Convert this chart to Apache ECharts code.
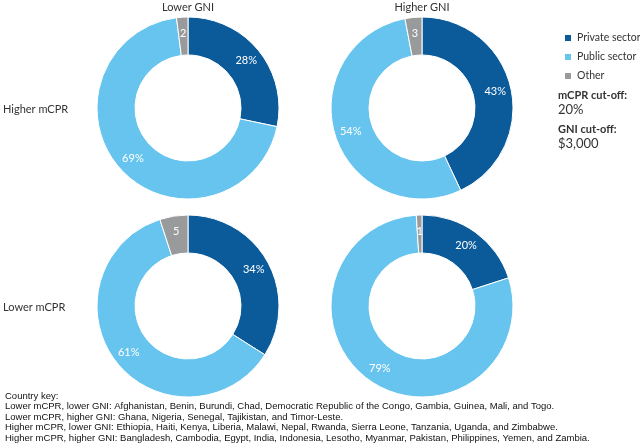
<!DOCTYPE html>
<html><head><meta charset="utf-8">
<script src="https://cdn.jsdelivr.net/npm/echarts@6/dist/echarts.min.js"></script>
<style>html,body{margin:0;padding:0;background:#fff}#c{width:640px;height:448px}</style>
</head><body><div id="c"></div>
<script>
const sectors = ['Private sector', 'Public sector', 'Other'];
const colors = ['#0b5b9b', '#67c4ee', '#999a9c'];
const colTitles = ['Lower GNI', 'Higher GNI'];
const rowTitles = ['Higher mCPR', 'Lower mCPR'];
const higherMcprLowerGni = [28, 69, 2];
const higherMcprHigherGni = [43, 54, 3];
const lowerMcprLowerGni = [34, 61, 5];
const lowerMcprHigherGni = [20, 79, 1];
const cutoffLabels = ['mCPR cut-off:', '20%', 'GNI cut-off:', '$3,000'];
const keyLines = [
  'Country key:',
  'Lower mCPR, lower GNI: Afghanistan, Benin, Burundi, Chad, Democratic Republic of the Congo, Gambia, Guinea, Mali, and Togo.',
  'Lower mCPR, higher GNI: Ghana, Nigeria, Senegal, Tajikistan, and Timor-Leste.',
  'Higher mCPR, lower GNI: Ethiopia, Haiti, Kenya, Liberia, Malawi, Nepal, Rwanda, Sierra Leone, Tanzania, Uganda, and Zimbabwe.',
  'Higher mCPR, higher GNI: Bangladesh, Cambodia, Egypt, India, Indonesia, Lesotho, Myanmar, Pakistan, Philippines, Yemen, and Zambia.'
];

const font = 'Lato, "Noto Sans", sans-serif';
const cxs = [188, 422];
const cys = [108, 306];
const panels = [
  [higherMcprLowerGni, 0, 0],
  [higherMcprHigherGni, 1, 0],
  [lowerMcprLowerGni, 0, 1],
  [lowerMcprHigherGni, 1, 1]
];

const series = panels.map(([vals, c, r]) => ({
  type: 'pie',
  center: [cxs[c], cys[r]],
  radius: [53, 91],
  startAngle: 90,
  clockwise: true,
  avoidLabelOverlap: false,
  silent: true,
  itemStyle: { borderColor: '#fff', borderWidth: 1 },
  label: {
    show: true, position: 'inside', color: '#fff', fontSize: 11, fontFamily: font,
    formatter: p => p.dataIndex === 2 ? String(p.value) : p.value + '%'
  },
  labelLine: { show: false },
  data: sectors.map((s, i) => ({ name: s, value: vals[i], itemStyle: { color: colors[i] } }))
}));

const graphics = [];
colTitles.forEach((t, i) => graphics.push({ type: 'text', x: cxs[i], y: 7, style: { text: t, align: 'center', verticalAlign: 'middle', fontSize: 11, fontFamily: font, fill: '#333' } }));
rowTitles.forEach((t, i) => graphics.push({ type: 'text', x: 3, y: cys[i] + 1, style: { text: t, verticalAlign: 'middle', fontSize: 11, fontFamily: font, fill: '#333' } }));
const cutY = [95, 110, 129, 144];
cutoffLabels.forEach((t, i) => graphics.push({ type: 'text', x: 558, y: cutY[i], style: {
  text: t, verticalAlign: 'middle', fontSize: i % 2 === 0 ? 11 : 13, fontWeight: i % 2 === 0 ? 'bold' : 'normal', fontFamily: font, fill: '#333' } }));
keyLines.forEach((t, i) => graphics.push({ type: 'text', x: 5, y: 396 + i * 10.6, style: { text: t, verticalAlign: 'middle', fontSize: 9.5, fontFamily: '"Liberation Sans", Arial, sans-serif', fill: '#111' } }));

const chart = echarts.init(document.getElementById('c'));
chart.setOption({
  animation: false,
  legend: {
    orient: 'vertical', left: 558, top: 23.5, itemWidth: 8, itemHeight: 8, itemGap: 0,
    icon: 'rect', textStyle: { fontSize: 10.5, lineHeight: 19, fontFamily: font, color: '#333' },
    data: sectors
  },
  series,
  graphic: graphics
});
</script></body></html>
